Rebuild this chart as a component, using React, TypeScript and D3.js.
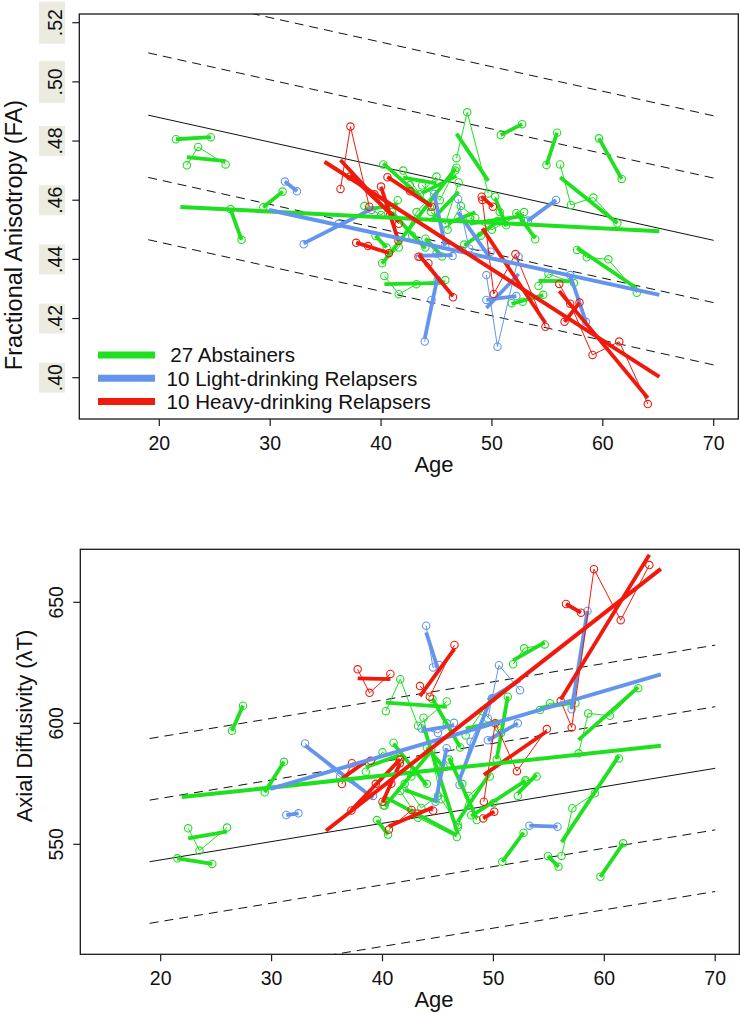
import React from 'react';
import * as d3 from 'd3';

// ---------- axis ticks ----------
const ageTicks = [20, 30, 40, 50, 60, 70];
const faTicks = [0.4, 0.42, 0.44, 0.46, 0.48, 0.5, 0.52];
const faTickLabels = ['.40', '.42', '.44', '.46', '.48', '.50', '.52'];
const adTicks = [550, 600, 650];
const adTickLabels = ['550', '600', '650'];

// ---------- normative regression (solid) with ±1, ±2 SD (dashed) ----------
const normAgeSpan = [19, 70];
const faNormMean = [0.48875, 0.44642];
const faNormSD = 0.02105;
const adNormMean = [542.8, 581.4];
const adNormSD = 25.45;
const sdOffsets = [-2, -1, 0, 1, 2];

// ---------- groups ----------
const groupColors = ['#1ee01e', '#6495ed', '#f01a0c'];
const legendLabels = [' 27 Abstainers', '10 Light-drinking Relapsers', '10 Heavy-drinking Relapsers'];
const groupFitAges = [[21.9, 65.1], [29.9, 65.1], [34.9, 65.1]];
const groupFitFA = [[0.4577, 0.4495], [0.4567, 0.428], [0.473, 0.4003]];
const groupFitAD = [[569.5, 590.7], [572.9, 620.2], [555.6, 663.8]];

// ---------- subjects: ages, FA, axial diffusivity ----------
const abstainerAges = [
  [21.5, 24.65], [22.48, 23.5, 25.98], [26.42, 27.42], [29.38, 31.12], [50.8, 52.72],
  [54.92, 55.87], [56.15, 57.12, 59.15, 61.32], [59.65, 61.7], [57.68, 58.55, 60.5, 63.06],
  [46.8, 47.77, 49.67], [40.3, 41.6, 43.2, 45.8], [40.1, 41.6, 43.2, 46.7], [40.2, 42.6, 44.4],
  [50.3, 50.7, 51.3], [54.2, 55.1, 57.4], [51.78, 52.77, 54.63], [52.2, 52.9, 53.9],
  [43.7, 45.3, 46.8], [38.5, 40.0, 41.5], [41.0, 42.8, 44.0], [44.5, 45.8, 47.0],
  [46.0, 47.2, 48.5], [42.0, 43.5, 45.0], [47.5, 49.0, 50.5], [39.5, 40.5],
  [48.0, 50.0, 52.9], [44.0, 45.5],
];
const abstainerFA = [
  [0.4806, 0.4813], [0.4718, 0.478, 0.4721], [0.457, 0.4466], [0.4576, 0.4629], [0.482, 0.4857],
  [0.4719, 0.4828], [0.4721, 0.4584, 0.4609, 0.4522], [0.4809, 0.4672], [0.4432, 0.4407, 0.44, 0.4287],
  [0.4742, 0.4897, 0.4623], [0.4344, 0.4282, 0.4316, 0.433], [0.4387, 0.444, 0.456, 0.47], [0.4721, 0.4651, 0.4578],
  [0.4612, 0.456, 0.4515], [0.431, 0.4351, 0.432], [0.4252, 0.4257, 0.428], [0.4556, 0.453, 0.4468],
  [0.465, 0.46, 0.471], [0.458, 0.455, 0.46], [0.456, 0.448, 0.444], [0.456, 0.452, 0.466],
  [0.45, 0.458, 0.454], [0.47, 0.462, 0.468], [0.445, 0.448, 0.453], [0.448, 0.444],
  [0.454, 0.45, 0.456], [0.447, 0.441],
];
const abstainerAD = [
  [544.2, 541.9], [556.6, 547.4, 556.9], [596.9, 607.3], [571.5, 584.1], [542.8, 554.8],
  [545.2, 540.7], [545.2, 564.9, 571.1, 585.5], [536.6, 550.4], [587.6, 604.1, 603.1, 614.5],
  [557, 570, 578], [605, 618.2, 599.0, 609], [566, 572, 561, 553], [566, 578, 589],
  [585, 596, 611], [605.5, 608.3, 608.3], [624.4, 631.0, 632.6], [570, 576, 578],
  [602.3, 568.6, 558], [580, 588, 585], [592, 580, 575], [610, 600, 590],
  [585, 575, 560], [575, 565, 570], [595, 605, 598], [560, 554],
  [562, 567, 576.6], [590, 582],
];

const lightAges = [
  [31.33, 32.42], [33.02, 36.17, 39.15], [43.94, 44.55, 45.1], [44.78, 45.78], [43.52, 45.0, 46.45],
  [46.95, 47.95, 49.87], [49.5, 50.5, 52.4], [53.25, 55.78], [57.05, 58.48], [49.5, 52.2],
];
const lightFA = [
  [0.4663, 0.463], [0.4451, 0.452, 0.4567], [0.4122, 0.4263, 0.433], [0.4621, 0.4446], [0.4409, 0.442, 0.4411],
  [0.4604, 0.4437, 0.4426], [0.4347, 0.4105, 0.4409], [0.4531, 0.4601], [0.4347, 0.4189], [0.4263, 0.4276],
];
const lightAD = [
  [562.1, 562.8], [591.7, 577.9, 570], [640.3, 623.1, 624.1], [567.6, 589.7], [597.9, 596, 600.2],
  [574.5, 592.4, 610.3], [602, 624, 613.7], [557.7, 557.3], [605.8, 646.4], [593, 600],
];

const heavyAges = [
  [36.34, 37.24, 38.94], [40.0, 40.8, 41.57], [37.76, 38.83, 40.71], [40.58, 42.62, 44.57],
  [43.38, 44.27, 46.49], [49.08, 50.08], [49.14, 50.16, 52.12, 54.82],
  [56.07, 57.06, 59.07, 61.48, 64.06], [56.55, 57.9], [37.2, 39.4, 41.6],
];
const heavyFA = [
  [0.4638, 0.4849, 0.4578], [0.4646, 0.455, 0.4463], [0.4456, 0.4445, 0.4421], [0.4678, 0.463, 0.4578],
  [0.4409, 0.4387, 0.4272], [0.4612, 0.4578], [0.4601, 0.4283, 0.4418, 0.4172],
  [0.4317, 0.425, 0.4077, 0.4122, 0.3911], [0.4189, 0.4254], [0.468, 0.462, 0.452],
];
const heavyAD = [
  [574.9, 583.5, 584.5], [567.6, 575, 583.5], [622.3, 612.6, 620.4], [556.1, 564.2, 563.9],
  [615.4, 611.0, 632.4], [560.7, 563.5], [567.6, 600.0, 580.2, 597.6],
  [609.3, 598.3, 663.7, 642.6, 665.4], [649.3, 645.7], [564, 575, 585],
];

const groupAges = [abstainerAges, lightAges, heavyAges];
const groupFA = [abstainerFA, lightFA, heavyFA];
const groupAD = [abstainerAD, lightAD, heavyAD];

// ---------- helpers ----------
function olsEnds(xs: number[], ys: number[]): [number, number][] {
  const mx = d3.mean(xs) as number;
  const my = d3.mean(ys) as number;
  let sxy = 0;
  let sxx = 0;
  xs.forEach((x, i) => {
    sxy += (x - mx) * (ys[i] - my);
    sxx += (x - mx) * (x - mx);
  });
  const b = sxx ? sxy / sxx : 0;
  const a = my - b * mx;
  const x0 = d3.min(xs) as number;
  const x1 = d3.max(xs) as number;
  return [[x0, a + b * x0], [x1, a + b * x1]];
}

const FONT = "'Liberation Sans', Arial, Helvetica, sans-serif";

type Box = { l: number; r: number; t: number; b: number };

function Panel(props: {
  id: string;
  box: Box;
  x: d3.ScaleLinear<number, number>;
  y: d3.ScaleLinear<number, number>;
  values: number[][][];
  groupFit: number[][];
  normMean: number[];
  normSD: number;
  yTicks: number[];
  yLabels: string[];
  yLabelX: number;
  labelBg: boolean;
  yTitle: string;
  yTitleX: number;
  yTitleY: number;
  yTitleSize: number;
  ageBaseline: number;
  legend: boolean;
}) {
  const { id, box, x, y, values, groupFit, normMean, normSD } = props;
  const line = d3.line<[number, number]>().x((d) => x(d[0])).y((d) => y(d[1]));
  return (
    <g>
      <defs>
        <clipPath id={id}>
          <rect x={box.l} y={box.t} width={box.r - box.l} height={box.b - box.t} />
        </clipPath>
      </defs>
      <g clipPath={`url(#${id})`}>
        {sdOffsets.map((k) => (
          <line
            key={k}
            x1={x(normAgeSpan[0])}
            x2={x(normAgeSpan[1])}
            y1={y(normMean[0] + k * normSD)}
            y2={y(normMean[1] + k * normSD)}
            stroke="#111"
            strokeWidth={1}
            strokeDasharray={k === 0 ? undefined : '9,6'}
          />
        ))}
        {groupAges.map((agesList, g) => (
          <g key={g}>
            {agesList.map((ages, s) => {
              const vals = values[g][s];
              const pts = ages.map((a, i) => [a, vals[i]] as [number, number]);
              const fit = olsEnds(ages, vals);
              return (
                <g key={s}>
                  <path d={line(pts) || ''} fill="none" stroke={groupColors[g]} strokeWidth={1} />
                  {pts.map((p, i) => (
                    <circle key={i} cx={x(p[0])} cy={y(p[1])} r={3.7} fill="none" stroke={groupColors[g]} strokeWidth={1.1} />
                  ))}
                  <path d={line(fit as [number, number][]) || ''} fill="none" stroke={groupColors[g]} strokeWidth={3.8} />
                </g>
              );
            })}
          </g>
        ))}
        {groupFitAges.map((ages, g) => (
          <line
            key={'gf' + g}
            x1={x(ages[0])}
            x2={x(ages[1])}
            y1={y(groupFit[g][0])}
            y2={y(groupFit[g][1])}
            stroke={groupColors[g]}
            strokeWidth={4}
          />
        ))}
      </g>
      <rect x={box.l} y={box.t} width={box.r - box.l} height={box.b - box.t} fill="none" stroke="#1a1a1a" strokeWidth={1.3} />
      {ageTicks.map((t) => (
        <g key={t}>
          <line x1={x(t)} x2={x(t)} y1={box.b} y2={box.b + 7} stroke="#1a1a1a" strokeWidth={1.2} />
          <text x={x(t)} y={box.b + 31} textAnchor="middle" fontSize={19.5} fontFamily={FONT} fill="#111">
            {t}
          </text>
        </g>
      ))}
      {props.yTicks.map((t, i) => (
        <g key={t}>
          <line x1={box.l - 7} x2={box.l} y1={y(t)} y2={y(t)} stroke="#1a1a1a" strokeWidth={1.2} />
          {props.labelBg && (
            <rect
              x={39}
              y={y(t) - (i >= 5 ? 21 : 15)}
              width={26}
              height={i >= 5 ? 42 : 30}
              fill="#ecebe0"
            />
          )}
          <text
            transform={`translate(${props.yLabelX},${y(t)}) rotate(-90)`}
            textAnchor="middle"
            fontSize={19.5}
            fontFamily={FONT}
            fill="#111"
          >
            {props.yLabels[i]}
          </text>
        </g>
      ))}
      <text x={434} y={props.ageBaseline} textAnchor="middle" fontSize={22} fontFamily={FONT} fill="#111">
        Age
      </text>
      <text
        transform={`translate(${props.yTitleX},${props.yTitleY}) rotate(-90)`}
        textAnchor="middle"
        fontSize={props.yTitleSize}
        fontFamily={FONT}
        fill="#111"
      >
        {props.yTitle}
      </text>
      {props.legend &&
        legendLabels.map((lab, g) => {
          const ly = 355 + g * 23.3;
          return (
            <g key={lab}>
              <line x1={98} x2={155} y1={ly} y2={ly} stroke={groupColors[g]} strokeWidth={7} />
              <text x={g === 0 ? 164.5 : 166.5} y={ly + 7.4} fontSize={20.6} fontFamily={FONT} fill="#111" style={{ whiteSpace: 'pre' }}>
                {lab}
              </text>
            </g>
          );
        })}
    </g>
  );
}

export default function App() {
  const topBox: Box = { l: 79.3, r: 738.3, t: 14, b: 419 };
  const botBox: Box = { l: 80.3, r: 739.3, t: 549.3, b: 954.3 };
  const xTop = d3.scaleLinear().domain([20, 70]).range([159.3, 713.7]);
  const yTop = d3.scaleLinear().domain([0.4, 0.52]).range([377.7, 22.7]);
  const xBot = d3.scaleLinear().domain([20, 70]).range([160.7, 715.2]);
  const yBot = d3.scaleLinear().domain([550, 650]).range([844.3, 602.3]);
  return (
    <svg
      width={740}
      height={1013}
      style={{ position: 'absolute', left: 0, top: 0, background: '#fff' }}
    >
      <rect x={0} y={0} width={740} height={1013} fill="#fff" />
      <Panel
        id="clipTop"
        box={topBox}
        x={xTop}
        y={yTop}
        values={groupFA}
        groupFit={groupFitFA}
        normMean={faNormMean}
        normSD={faNormSD}
        yTicks={faTicks}
        yLabels={faTickLabels}
        yLabelX={61.5}
        labelBg={true}
        yTitle="Fractional Anisotropy (FA)"
        yTitleX={21.5}
        yTitleY={235}
        yTitleSize={23.5}
        ageBaseline={471.5}
        legend={true}
      />
      <Panel
        id="clipBot"
        box={botBox}
        x={xBot}
        y={yBot}
        values={groupAD}
        groupFit={groupFitAD}
        normMean={adNormMean}
        normSD={adNormSD}
        yTicks={adTicks}
        yLabels={adTickLabels}
        yLabelX={63}
        labelBg={false}
        yTitle="Axial Diffusivity (λT)"
        yTitleX={32}
        yTitleY={726}
        yTitleSize={22}
        ageBaseline={1007}
        legend={false}
      />
    </svg>
  );
}
